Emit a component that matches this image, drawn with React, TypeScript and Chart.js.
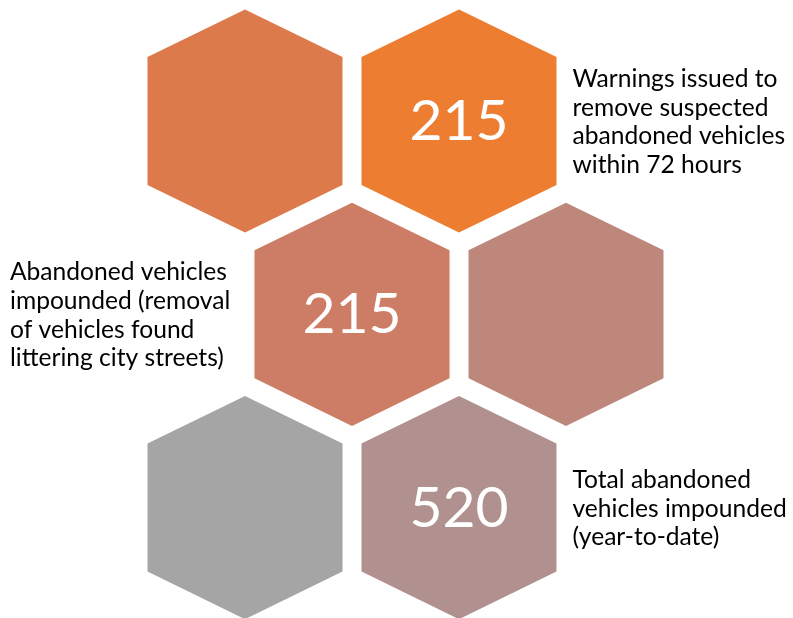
import React, { useEffect, useRef } from 'react';
import { Chart, registerables } from 'chart.js';

Chart.register(...registerables);

// Hex grid positions (column / row in hex units)
const hexCols = [0, 1, 0.5, 1.5, 0, 1];
const hexRows = [0, 0, 1, 1, 2, 2];
// Values shown inside the hexes (null = empty hex)
const hexValues: (number | null)[] = [null, 215, 215, null, null, 520];
const hexColors = ['#DD7A4B', '#ED7D31', '#CD7C65', '#BD877B', '#A5A5A5', '#B0918F'];
// Caption lines next to the numbered hexes
const captionRight1 = ['Warnings issued to', 'remove suspected', 'abandoned vehicles', 'within 72 hours'];
const captionLeft = ['Abandoned vehicles', 'impounded (removal', 'of vehicles found', 'littering city streets)'];
const captionRight2 = ['Total abandoned', 'vehicles impounded', '(year-to-date)'];
const hexCaptions: (string[] | null)[] = [null, captionRight1, captionLeft, null, null, captionRight2];
const captionSides: (string | null)[] = [null, 'right', 'left', null, null, 'right'];

const W = 793;
const H = 618;
// hex half-width (col units), vertex and shoulder offsets (row units)
const HEX_HALF_W = 0.4556;
const HEX_TIP = 0.5774;
const HEX_SHOULDER = 0.331;

const FONT = 'Lato, "Open Sans", sans-serif';

const hexPlugin = {
  id: 'hexDraw',
  afterDatasetsDraw(chart: any) {
    const ctx = chart.ctx as CanvasRenderingContext2D;
    const xs = chart.scales.x;
    const ys = chart.scales.y;
    const data = chart.data.datasets[0].data as { x: number; y: number }[];
    data.forEach((p, i) => {
      const cx = p.x;
      const cy = p.y;
      const pts = [
        [cx, cy - HEX_TIP],
        [cx + HEX_HALF_W, cy - HEX_SHOULDER],
        [cx + HEX_HALF_W, cy + HEX_SHOULDER],
        [cx, cy + HEX_TIP],
        [cx - HEX_HALF_W, cy + HEX_SHOULDER],
        [cx - HEX_HALF_W, cy - HEX_SHOULDER],
      ];
      ctx.save();
      ctx.beginPath();
      pts.forEach(([x, y], k) => {
        const px = xs.getPixelForValue(x);
        const py = ys.getPixelForValue(y);
        if (k === 0) ctx.moveTo(px, py);
        else ctx.lineTo(px, py);
      });
      ctx.closePath();
      ctx.fillStyle = hexColors[i];
      ctx.fill();

      const pcx = xs.getPixelForValue(cx);
      const pcy = ys.getPixelForValue(cy);
      const v = hexValues[i];
      if (v !== null) {
        ctx.fillStyle = '#FFFFFF';
        ctx.font = `57px ${FONT}`;
        ctx.textAlign = 'center';
        ctx.textBaseline = 'alphabetic';
        ctx.fillText(String(v), pcx, pcy + 19);
      }
      const cap = hexCaptions[i];
      if (cap) {
        ctx.fillStyle = '#000000';
        ctx.font = `24.6px ${FONT}`;
        ctx.textAlign = 'left';
        ctx.textBaseline = 'alphabetic';
        const lh = 28.6;
        let tx: number;
        if (captionSides[i] === 'right') {
          tx = xs.getPixelForValue(cx + HEX_HALF_W) + 16;
        } else {
          tx = chart.chartArea.left + 10;
        }
        const n = cap.length;
        cap.forEach((line, k) => {
          const by = pcy + 9 + (k - (n - 1) / 2) * lh;
          ctx.fillText(line, tx, by);
        });
      }
      ctx.restore();
    });
  },
};

export default function App() {
  const ref = useRef<HTMLCanvasElement | null>(null);
  useEffect(() => {
    if (!ref.current) return;
    const points = hexCols.map((c, i) => ({ x: c, y: hexRows[i] }));
    const chart = new Chart(ref.current, {
      type: 'scatter',
      data: {
        datasets: [
          {
            data: points,
            pointRadius: 0,
            pointHoverRadius: 0,
            backgroundColor: hexColors,
          },
        ],
      },
      options: {
        animation: false,
        responsive: false,
        devicePixelRatio: 1,
        layout: { padding: 0 },
        plugins: { legend: { display: false }, tooltip: { enabled: false } },
        events: [],
        scales: {
          x: { type: 'linear', display: false, min: -245 / 214, max: (W - 245) / 214 },
          y: { type: 'linear', display: false, reverse: true, min: -121 / 193.3, max: (H - 121) / 193.3 },
        },
      },
      plugins: [hexPlugin],
    });
    return () => chart.destroy();
  }, []);
  return (
    <div style={{ position: 'absolute', left: 0, top: 0, width: W, height: H, background: '#fff' }}>
      <canvas ref={ref} width={W} height={H} style={{ width: W, height: H, display: 'block' }} />
    </div>
  );
}
